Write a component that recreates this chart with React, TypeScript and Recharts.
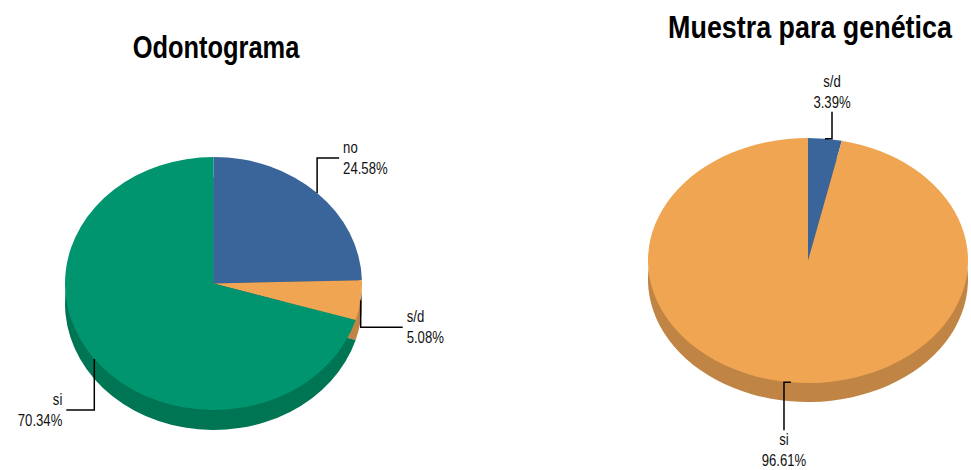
import React from "react";
import { PieChart, Pie, Cell } from "recharts";

// Odontograma
const odontoNames = ["no", "s/d", "si"];
const odontoValues = [24.58, 5.08, 70.34];
const odontoColors = ["#3A659A", "#F0A552", "#00956E"];
const odontoSide = ["#2A4A72", "#C08444", "#007553"];

// Muestra para genética
const geneticaNames = ["s/d", "si"];
const geneticaValues = [3.39, 96.61];
const geneticaColors = ["#3A659A", "#F0A552"];
const geneticaSide = ["#2A4A72", "#C08444"];

const FONT = "'Liberation Sans', Arial, sans-serif";
const NARROW = 0.82;
const RAD = Math.PI / 180;

type LabelLayout = {
  leg1: [number, number];
  leg2: [number, number];
  place: "left" | "right" | "above" | "below";
};

function NarrowText(props: { x: number; y: number; anchor: "start" | "end" | "middle"; children: React.ReactNode }) {
  return (
    <text
      transform={`translate(${props.x},${props.y}) scale(${NARROW},1)`}
      textAnchor={props.anchor}
      fontFamily={FONT}
      fontSize={16}
      fill="#111"
    >
      {props.children}
    </text>
  );
}

function makeLabel(k: number, layouts: LabelLayout[]) {
  return (props: any) => {
    const { cx, cy, midAngle, outerRadius, index, name, value } = props;
    const lay = layouts[index];
    const ax = cx + outerRadius * Math.cos(-midAngle * RAD);
    const ay = (cy + outerRadius * Math.sin(-midAngle * RAD)) * k;
    const bx = ax + lay.leg1[0];
    const by = ay + lay.leg1[1];
    const ex = bx + lay.leg2[0];
    const ey = by + lay.leg2[1];
    let tx = ex;
    let y1 = ey - 5;
    let anchor: "start" | "end" | "middle" = "start";
    if (lay.place === "right") {
      tx = ex + 4;
    } else if (lay.place === "left") {
      tx = ex - 4;
      anchor = "end";
    } else if (lay.place === "above") {
      anchor = "middle";
      y1 = ey - 25;
    } else {
      anchor = "middle";
      y1 = ey + 15;
    }
    return (
      <g transform={`scale(1,${1 / k})`}>
        <polyline
          points={`${ax},${ay} ${bx},${by} ${ex},${ey}`}
          fill="none"
          stroke="#000"
          strokeWidth={1.5}
        />
        <NarrowText x={tx} y={y1} anchor={anchor}>
          {name}
        </NarrowText>
        <NarrowText x={tx} y={y1 + 21} anchor={anchor}>
          {value.toFixed(2)}%
        </NarrowText>
      </g>
    );
  };
}

function Pie3D(props: {
  names: string[];
  values: number[];
  colors: string[];
  side: string[];
  cx: number;
  cy: number;
  rx: number;
  ry: number;
  depth: number;
  layouts: LabelLayout[];
}) {
  const k = props.ry / props.rx;
  const data = props.names.map((n, i) => ({ name: n, value: props.values[i] }));
  const h = 470 / k;
  return (
    <div
      style={{
        position: "absolute",
        left: 0,
        top: 0,
        width: 971,
        height: h,
        transform: `scaleY(${k})`,
        transformOrigin: "0 0",
      }}
    >
      <PieChart width={971} height={h} margin={{ top: 0, right: 0, bottom: 0, left: 0 }}>
        {/* darker copy shifted down = the side of the 3D pie */}
        <Pie
          data={data}
          dataKey="value"
          cx={props.cx}
          cy={(props.cy + props.depth) / k}
          outerRadius={props.rx}
          startAngle={90}
          endAngle={-270}
          stroke="none"
          isAnimationActive={false}
          labelLine={false}
        >
          {data.map((d, i) => (
            <Cell key={d.name} fill={props.side[i]} />
          ))}
        </Pie>
        <Pie
          data={data}
          dataKey="value"
          cx={props.cx}
          cy={props.cy / k}
          outerRadius={props.rx}
          startAngle={90}
          endAngle={-270}
          stroke="none"
          isAnimationActive={false}
          labelLine={false}
          label={makeLabel(k, props.layouts)}
        >
          {data.map((d, i) => (
            <Cell key={d.name} fill={props.colors[i]} />
          ))}
        </Pie>
      </PieChart>
    </div>
  );
}

export default function App() {
  return (
    <div style={{ position: "absolute", left: 0, top: 0, width: 971, height: 470, background: "#fff", overflow: "hidden" }}>
      <Pie3D
        names={odontoNames}
        values={odontoValues}
        colors={odontoColors}
        side={odontoSide}
        cx={213.5}
        cy={283.5}
        rx={148.5}
        ry={126.5}
        depth={20}
        layouts={[
          { leg1: [0, -35], leg2: [22, 0], place: "right" },
          { leg1: [0, 27], leg2: [42, 0], place: "right" },
          { leg1: [0, 51], leg2: [-28, 0], place: "left" },
        ]}
      />
      <Pie3D
        names={geneticaNames}
        values={geneticaValues}
        colors={geneticaColors}
        side={geneticaSide}
        cx={808}
        cy={260.5}
        rx={160}
        ry={122.5}
        depth={19}
        layouts={[
          { leg1: [7, 0], leg2: [0, -27], place: "above" },
          { leg1: [-7, 0], leg2: [0, 48], place: "below" },
        ]}
      />
      <svg width={971} height={470} style={{ position: "absolute", left: 0, top: 0 }}>
        <text
          transform="translate(216,58) scale(0.795,1)"
          textAnchor="middle"
          fontFamily={FONT}
          fontWeight="bold"
          fontSize={32}
          fill="#000"
        >
          Odontograma
        </text>
        <text
          transform="translate(810,38) scale(0.84,1)"
          textAnchor="middle"
          fontFamily={FONT}
          fontWeight="bold"
          fontSize={32}
          fill="#000"
        >
          Muestra para genética
        </text>
      </svg>
    </div>
  );
}
